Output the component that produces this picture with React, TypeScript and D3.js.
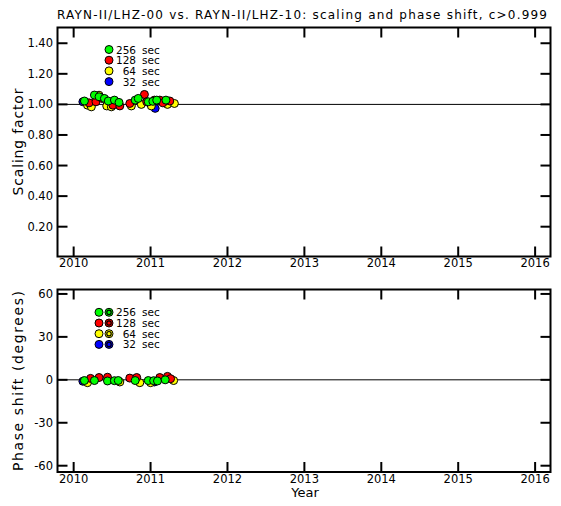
import React from "react";
import * as d3 from "d3";

// reference data (decimal year, value)
const periods = ["256", "128", "64", "32"];
const colors = ["#00ff00", "#ff0000", "#ffff00", "#0000ff"];

const scaleYears256 = [2010.14, 2010.27, 2010.33, 2010.4, 2010.45, 2010.53, 2010.59, 2010.8, 2010.84, 2010.97, 2011.03, 2011.08, 2011.2];
const scaleVals256 = [1.022, 1.061, 1.05, 1.039, 1.022, 1.028, 1.013, 1.028, 1.039, 1.017, 1.02, 1.028, 1.028];
const scaleYears128 = [2010.2, 2010.29, 2010.37, 2010.51, 2010.6, 2010.73, 2010.92, 2010.95, 2011.05, 2011.12, 2011.16, 2011.25];
const scaleVals128 = [1.01, 1.017, 1.039, 0.995, 0.99, 1.006, 1.065, 1.017, 1.028, 1.028, 1.01, 1.022];
const scaleYears64 = [2010.18, 2010.23, 2010.33, 2010.43, 2010.49, 2010.75, 2010.88, 2011.01, 2011.22, 2011.31];
const scaleVals64 = [0.995, 0.984, 1.06, 0.99, 0.984, 0.99, 1.0, 0.99, 1.0, 1.006];
const scaleYears32 = [2010.12, 2011.06];
const scaleVals32 = [1.017, 0.974];

const phaseYears256 = [2010.14, 2010.27, 2010.44, 2010.53, 2010.58, 2010.8, 2010.97, 2011.04, 2011.09, 2011.19];
const phaseVals256 = [-0.5, -0.5, -0.8, -0.6, -0.5, -0.5, -0.5, -0.6, -0.8, 0];
const phaseYears128 = [2010.22, 2010.33, 2010.44, 2010.73, 2010.82, 2011.12, 2011.22, 2011.26];
const phaseVals128 = [1.0, 1.6, 1.8, 1.2, 1.6, 1.6, 2.4, 0.8];
const phaseYears64 = [2010.18, 2010.6, 2010.86, 2011.0, 2011.3];
const phaseVals64 = [-2, -1.5, -2, -2, -0.5];
const phaseYears32 = [2010.12, 2011.05];
const phaseVals32 = [-1, -1.5];

const yearTicks = [2010, 2011, 2012, 2013, 2014, 2015, 2016];
const scaleTicks = [0.2, 0.4, 0.6, 0.8, 1.0, 1.2, 1.4];
const phaseTicks = [-60, -30, 0, 30, 60];

const title = "RAYN-II/LHZ-00 vs. RAYN-II/LHZ-10: scaling and phase shift, c>0.999";
const font = "DejaVu Sans";

const W = 561;
const H = 506;
const left = 57.5;
const right = 550.5;
const top1 = 27.5;
const bot1 = 256.5;
const top2 = 289.5;
const bot2 = 472;
const tick = 10;

const zip = (xs: number[], ys: number[]) => xs.map((x, i) => ({ x, y: ys[i] }));

const Panel = ({ y, yTicks, fmt, series, refVal, top, bottom }: any) => {
  const x = d3.scaleLinear().domain([2009.79, 2016.2]).range([left, right]);
  return (
    <g>
      <line x1={left} x2={right} y1={y(refVal)} y2={y(refVal)} stroke="#000" strokeWidth={1} />
      {/* draw 32 first, 256 last */}
      {series
        .map((s: any, i: number) => ({ s, i }))
        .reverse()
        .map(({ s, i }: any) =>
          s.map((d: any, j: number) => (
            <circle key={`${i}-${j}`} cx={x(d.x)} cy={y(d.y)} r={4} fill={colors[i]} stroke="#000" strokeWidth={1} />
          ))
        )}
      <rect x={left} y={top} width={right - left} height={bottom - top} fill="none" stroke="#000" strokeWidth={2} />
      {yearTicks.map((t) => (
        <g key={t}>
          <line x1={x(t)} x2={x(t)} y1={top} y2={top + tick} stroke="#000" strokeWidth={2} />
          <line x1={x(t)} x2={x(t)} y1={bottom} y2={bottom - tick} stroke="#000" strokeWidth={2} />
          <text x={x(t)} y={bottom + 10.5} textAnchor="middle" fontFamily={font} fontSize={11.5}>
            {t}
          </text>
        </g>
      ))}
      {yTicks.map((t: number) => (
        <g key={t}>
          <line x1={left} x2={left + tick} y1={y(t)} y2={y(t)} stroke="#000" strokeWidth={2} />
          <line x1={right} x2={right - tick} y1={y(t)} y2={y(t)} stroke="#000" strokeWidth={2} />
          <text x={53} y={y(t) + 4} textAnchor="end" fontFamily={font} fontSize={11.5}>
            {fmt(t)}
          </text>
        </g>
      ))}
    </g>
  );
};

const Legend = ({ x0, y0, dbl }: any) => (
  <g>
    {periods.map((p, i) => {
      const cy = y0 + i * 10.7;
      return (
        <g key={p}>
          {dbl ? (
            <>
              <circle cx={x0 - 10} cy={cy} r={4} fill={colors[i]} stroke="#000" />
              <circle cx={x0} cy={cy} r={4} fill={colors[i]} stroke="#000" />
              <circle cx={x0} cy={cy} r={2.2} fill={colors[i]} stroke="#000" strokeWidth={1.2} />
            </>
          ) : (
            <circle cx={x0} cy={cy} r={4} fill={colors[i]} stroke="#000" />
          )}
          <text x={136} y={cy + 4} textAnchor="end" fontFamily={font} fontSize={10.5}>
            {p}
          </text>
          <text x={142} y={cy + 4} fontFamily={font} fontSize={10.5}>
            sec
          </text>
        </g>
      );
    })}
  </g>
);

export default function App() {
  const yScale = d3.scaleLinear().domain([0.005, 1.503]).range([bot1, top1]);
  const yPhase = d3.scaleLinear().domain([-64.4, 63.1]).range([bot2, top2]);

  const scaleSeries = [
    zip(scaleYears256, scaleVals256),
    zip(scaleYears128, scaleVals128),
    zip(scaleYears64, scaleVals64),
    zip(scaleYears32, scaleVals32),
  ];
  const phaseSeries = [
    zip(phaseYears256, phaseVals256),
    zip(phaseYears128, phaseVals128),
    zip(phaseYears64, phaseVals64),
    zip(phaseYears32, phaseVals32),
  ];

  return (
    <svg width={W} height={H} style={{ position: "absolute", left: 0, top: 0, background: "#fff" }}>
      <rect width={W} height={H} fill="#fff" />
      <text x={57} y={19} fontFamily={font} fontSize={12} textLength={490} lengthAdjust="spacing">
        {title}
      </text>
      <Panel y={yScale} yTicks={scaleTicks} fmt={d3.format(".2f")} series={scaleSeries} refVal={1} top={top1} bottom={bot1} />
      <Panel y={yPhase} yTicks={phaseTicks} fmt={(d: number) => String(d)} series={phaseSeries} refVal={0} top={top2} bottom={bot2} />
      <Legend x0={109} y0={49.5} dbl={false} />
      <Legend x0={109} y0={312.3} dbl={true} />
      <text transform="translate(23,142) rotate(-90)" textAnchor="middle" fontFamily={font} fontSize={14} textLength={107} lengthAdjust="spacing">
        Scaling factor
      </text>
      <text transform="translate(23,381) rotate(-90)" textAnchor="middle" fontFamily={font} fontSize={14} textLength={180} lengthAdjust="spacing">
        Phase shift (degrees)
      </text>
      <text x={305} y={497} textAnchor="middle" fontFamily={font} fontSize={13}>
        Year
      </text>
    </svg>
  );
}
